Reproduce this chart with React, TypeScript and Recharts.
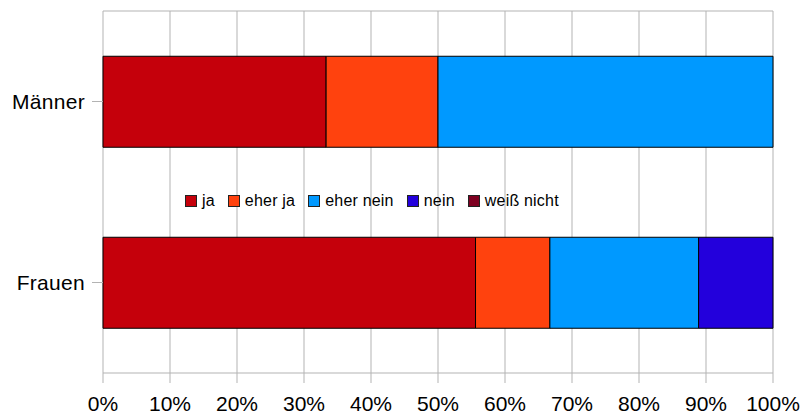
import React from 'react';
import { BarChart, Bar, XAxis, YAxis, CartesianGrid, Legend } from 'recharts';

const groups = ['Männer', 'Frauen'];
const answers = ['ja', 'eher ja', 'eher nein', 'nein', 'weiß nicht'];
const colors = ['#c5000b', '#ff420e', '#0099ff', '#2300dc', '#7e0021'];
// percent per answer, one entry per group
const ja = [33.3, 55.6];
const eherJa = [16.7, 11.1];
const eherNein = [50.0, 22.2];
const nein = [0, 11.1];
const weissNicht = [0, 0];
const xTicks = [0, 10, 20, 30, 40, 50, 60, 70, 80, 90, 100];

const series = [ja, eherJa, eherNein, nein, weissNicht];

const data = groups.map((g, i) => {
    const row: Record<string, string | number> = { group: g };
    answers.forEach((a, k) => {
        row[a] = series[k][i];
    });
    return row;
});

const font = '"Liberation Sans", Arial, sans-serif';

const LegendBox = () => (
    <div style={{ display: 'flex', alignItems: 'center', fontFamily: font, fontSize: 16, letterSpacing: 0.2, color: '#000', whiteSpace: 'nowrap' }}>
        {answers.map((a, k) => (
            <div key={a} style={{ display: 'flex', alignItems: 'center', marginRight: 13 }}>
                <span style={{
                    display: 'inline-block', width: 12, height: 12, background: colors[k],
                    border: '1px solid #222', marginRight: 5, boxSizing: 'border-box'
                }}></span>
                {a}
            </div>
        ))}
    </div>
);

export default function App() {
    return (
        <div style={{ position: 'absolute', left: 0, top: 0, background: '#fff' }}>
            <BarChart
                width={804}
                height={420}
                data={data}
                layout="vertical"
                margin={{ top: 11, right: 31, left: 0, bottom: 0 }}
                barCategoryGap="25%"
            >
                <CartesianGrid
                    stroke="#b3b3b3"
                    strokeWidth={1}
                    horizontalCoordinatesGenerator={({ offset }: any) => [offset.top]}
                />
                <XAxis
                    type="number"
                    domain={[0, 100]}
                    ticks={xTicks}
                    tickFormatter={(v: number) => `${v}%`}
                    interval={0}
                    height={47}
                    tickSize={10}
                    tickMargin={13}
                    stroke="#b3b3b3"
                    tick={{ fill: '#000', fontSize: 21, fontFamily: font }}
                />
                <YAxis
                    type="category"
                    dataKey="group"
                    width={103}
                    tickSize={11}
                    tickMargin={7}
                    stroke="#b3b3b3"
                    axisLine={false}
                    tick={{ fill: '#000', fontSize: 21, fontFamily: font, letterSpacing: 0.3 }}
                />
                <Legend
                    verticalAlign="middle"
                    content={<LegendBox />}
                    wrapperStyle={{ position: 'absolute', left: 185, top: 192, width: 'auto' }}
                />
                {answers.map((a, k) => (
                    <Bar
                        key={a}
                        dataKey={a}
                        stackId="s"
                        fill={colors[k]}
                        stroke="#000"
                        strokeWidth={1}
                        isAnimationActive={false}
                    />
                ))}
            </BarChart>
        </div>
    );
}
